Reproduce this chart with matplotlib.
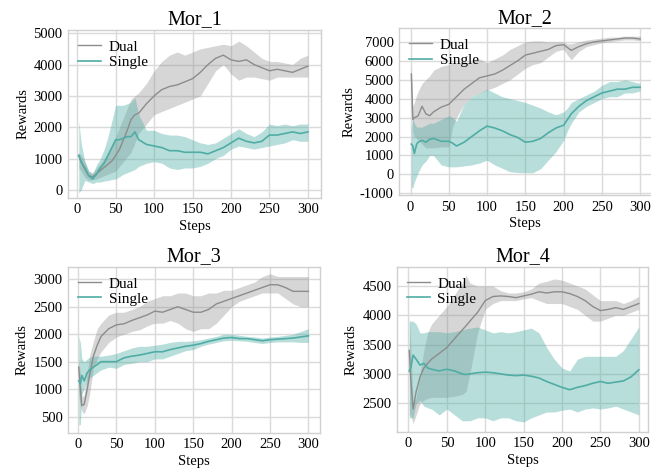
import matplotlib
matplotlib.use("Agg")
import matplotlib.pyplot as plt
import numpy as np

plt.rcParams['font.family'] = ['Liberation Serif', 'DejaVu Serif']
plt.rcParams['axes.unicode_minus'] = False

# ---------------- Mor_1 ----------------
m1_steps = [2, 5, 10, 15, 20, 25, 30, 35, 40, 45, 50, 55, 60, 65, 70, 75, 80, 90, 100, 110, 120, 130,
            140, 150, 160, 170, 180, 190, 200, 210, 220, 230, 240, 250, 260, 270, 280, 290, 300]
m1_dual_mean = [1100, 900, 650, 450, 420, 520, 620, 720, 820, 920, 1100, 1300, 1600, 1900, 2250, 2400, 2450,
                2750, 3000, 3200, 3300, 3350, 3450, 3550, 3750, 4000, 4200, 4300, 4150, 4100, 4150, 4000,
                3900, 3800, 3850, 3800, 3750, 3850, 3950]
m1_dual_lo = [700, 600, 400, 300, 320, 350, 400, 450, 500, 550, 600, 750, 900, 1050, 1200, 1500, 1800,
              2100, 2400, 2500, 2600, 2700, 2800, 2900, 3000, 3400, 3800, 4000, 3700, 3500, 3600, 3600,
              3550, 3500, 3600, 3600, 3600, 3600, 3600]
m1_dual_hi = [1200, 1100, 900, 600, 550, 700, 850, 1000, 1200, 1450, 1700, 2000, 2300, 2600, 2900, 3000, 3100,
              3400, 3800, 4100, 4300, 4400, 4300, 4400, 4500, 4550, 4600, 4650, 4600, 4750, 4600, 4400,
              4200, 4100, 4100, 4050, 4000, 4200, 4300]
m1_single_mean = [1100, 900, 700, 450, 350, 500, 700, 850, 1100, 1350, 1600, 1600, 1650, 1700, 1700, 1850, 1600,
                  1450, 1400, 1350, 1250, 1250, 1200, 1200, 1200, 1150, 1250, 1350, 1500, 1650, 1550, 1500,
                  1550, 1750, 1750, 1800, 1850, 1800, 1850]
m1_single_lo = [-100, 0, 300, 250, 200, 250, 250, 280, 300, 330, 350, 420, 500, 550, 600, 650, 750,
                850, 900, 850, 700, 650, 700, 700, 750, 850, 1000, 1100, 1300, 1400, 1350, 1300,
                1350, 1400, 1450, 1500, 1600, 1550, 1550]
m1_single_hi = [2200, 1500, 900, 600, 500, 800, 1000, 1300, 1700, 2200, 2700, 2700, 2700, 2750, 2800, 2950, 2400,
                1900, 1900, 1800, 1750, 1750, 1700, 1600, 1500, 1450, 1500, 1650, 1800, 1950, 1800, 1700,
                1850, 2100, 2050, 2100, 2050, 2100, 2100]

# ---------------- Mor_2 ----------------
m2_steps = [1, 3, 5, 8, 10, 15, 20, 25, 30, 40, 50, 55, 60, 70, 80, 90, 100, 110, 120, 130, 140, 150,
            160, 170, 180, 190, 200, 205, 210, 220, 230, 240, 250, 260, 270, 280, 290, 300]
m2_dual_mean = [5300, 2900, 3000, 3050, 3100, 3600, 3200, 3100, 3300, 3550, 3700, 3900, 4100, 4500, 4800,
                5100, 5200, 5300, 5500, 5750, 6000, 6300, 6400, 6500, 6600, 6800, 6850, 6700, 6550,
                6750, 6900, 7000, 7050, 7100, 7150, 7200, 7200, 7150]
m2_dual_lo = [3500, 2200, 2000, 1900, 1800, 1600, 1400, 1400, 1400, 1450, 1450, 2500, 3000, 3700, 4100,
              4300, 4450, 4600, 4800, 5000, 5300, 5600, 5800, 5900, 6200, 6500, 6600, 6300, 6050,
              6500, 6750, 6850, 6950, 7000, 7050, 7100, 7100, 7050]
m2_dual_hi = [5800, 3600, 3800, 4200, 4400, 4800, 5000, 5200, 5500, 5700, 5800, 5900, 5900, 5900, 5950,
              6100, 5900, 6100, 6300, 6600, 6800, 7000, 7050, 7050, 7000, 7000, 7000, 6900, 6900,
              7000, 7100, 7150, 7200, 7250, 7250, 7300, 7300, 7300]
m2_single_mean = [1600, 1500, 1100, 1600, 1700, 1800, 1700, 1850, 1900, 1750, 1750, 1650, 1500, 1700, 2000,
                  2300, 2550, 2450, 2300, 2100, 1950, 1700, 1750, 1900, 2200, 2450, 2600, 2900, 3200,
                  3600, 3900, 4100, 4300, 4400, 4500, 4500, 4600, 4600]
m2_single_lo = [-700, -700, -400, -100, 100, 500, 700, 1000, 1000, 500, 400, 400, 400, 450, 500,
                600, 750, 500, 320, 140, 100, 90, 90, 300, 760, 1200, 1800, 2300, 2700,
                3300, 3600, 3800, 4000, 4100, 4100, 4300, 4300, 4400]
m2_single_hi = [2500, 3000, 2700, 2500, 2500, 2500, 2600, 2700, 2700, 2900, 3100, 3000, 2800, 3700, 4100,
                4300, 4500, 4300, 4100, 4000, 3900, 3800, 3650, 3500, 3300, 3150, 3300, 3500, 3800,
                4000, 4200, 4400, 4700, 4900, 4900, 5000, 4900, 4800]

# ---------------- Mor_3 ----------------
m3_steps = [1, 3, 5, 8, 12, 15, 20, 25, 30, 40, 50, 60, 70, 80, 90, 100, 110, 120, 130, 140, 150,
            160, 170, 180, 190, 200, 210, 220, 230, 240, 250, 260, 270, 280, 290, 300]
m3_dual_mean = [1400, 1000, 700, 720, 1000, 1250, 1600, 1800, 1960, 2100, 2170, 2190, 2250, 2300, 2350,
                2420, 2400, 2450, 2500, 2450, 2400, 2400, 2450, 2550, 2600, 2650, 2700, 2750, 2800,
                2850, 2900, 2900, 2850, 2780, 2780, 2780]
m3_dual_lo = [900, 700, 600, 550, 700, 900, 1380, 1550, 1680, 1850, 1950, 2000, 2050, 2080, 2150,
              2200, 2200, 2250, 2200, 2100, 2050, 2100, 2100, 2200, 2350, 2500, 2600, 2650, 2700,
              2750, 2750, 2750, 2650, 2550, 2500, 2500]
m3_dual_hi = [1550, 1300, 850, 900, 1300, 1600, 1870, 2100, 2200, 2350, 2400, 2400, 2450, 2500, 2600,
              2650, 2700, 2700, 2750, 2750, 2700, 2700, 2750, 2750, 2800, 2800, 2850, 2900, 2950,
              3050, 3100, 3050, 3050, 3050, 3050, 3050]
m3_single_mean = [1150, 1100, 1250, 1150, 1300, 1350, 1400, 1450, 1500, 1500, 1500, 1570, 1600, 1620, 1650,
                  1680, 1680, 1720, 1750, 1780, 1800, 1830, 1870, 1900, 1930, 1940, 1920, 1920, 1900,
                  1880, 1900, 1910, 1920, 1930, 1950, 1970]
m3_single_lo = [350, 350, 900, 1000, 1150, 1200, 1250, 1300, 1350, 1400, 1380, 1450, 1470, 1500, 1500,
                1550, 1550, 1600, 1650, 1700, 1720, 1780, 1820, 1850, 1880, 1890, 1880, 1870, 1850,
                1830, 1850, 1860, 1860, 1860, 1850, 1850]
m3_single_hi = [1950, 1850, 1550, 1500, 1550, 1580, 1600, 1600, 1600, 1620, 1650, 1700, 1750, 1780, 1780,
                1800, 1820, 1850, 1870, 1870, 1880, 1900, 1930, 1960, 2000, 2000, 1980, 1960, 1950,
                1930, 1950, 1960, 1980, 2000, 2050, 2100]

# ---------------- Mor_4 ----------------
m4_steps = [1, 3, 6, 10, 15, 20, 25, 30, 40, 50, 60, 70, 75, 80, 90, 100, 110, 120, 130, 140, 150,
            160, 170, 180, 190, 200, 210, 220, 230, 240, 250, 260, 270, 280, 290, 300]
m4_dual_mean = [3400, 2900, 2400, 2700, 2950, 3100, 3180, 3250, 3350, 3450, 3600, 3750, 3820, 3900, 4050,
                4250, 4320, 4330, 4320, 4300, 4330, 4360, 4400, 4380, 4400, 4400, 4370, 4320, 4250,
                4150, 4080, 4100, 4130, 4100, 4150, 4200]
m4_dual_lo = [2300, 2300, 2150, 2300, 2500, 2550, 2580, 2600, 2600, 2600, 2620, 2650, 2700, 3000, 3700,
              4100, 4200, 4250, 4250, 4250, 4280, 4300, 4250, 4200, 4200, 4200, 4150, 4100, 4000,
              3900, 3900, 3950, 4000, 4000, 4050, 4100]
m4_dual_hi = [4000, 3500, 2500, 2600, 3000, 3400, 3700, 3850, 4000, 4150, 4350, 4550, 4680, 4550, 4500,
              4500, 4500, 4420, 4380, 4380, 4400, 4450, 4550, 4580, 4620, 4600, 4550, 4500, 4450,
              4350, 4250, 4250, 4250, 4200, 4250, 4320]
m4_single_mean = [3050, 3100, 3320, 3250, 3150, 3180, 3100, 3080, 3050, 3080, 3050, 3000, 2990, 3000, 3020,
                  3030, 3020, 3000, 2980, 2970, 2980, 2960, 2930, 2870, 2820, 2770, 2730, 2770, 2800,
                  2840, 2870, 2840, 2860, 2880, 2950, 3070]
m4_single_lo = [2250, 2250, 2250, 2500, 2550, 2450, 2420, 2400, 2300, 2400, 2300, 2200, 2200, 2200, 2250,
                2250, 2200, 2250, 2250, 2200, 2180, 2250, 2300, 2350, 2350, 2380, 2400, 2350, 2400,
                2420, 2400, 2420, 2450, 2400, 2350, 2300]
m4_single_hi = [3900, 3900, 3900, 3850, 3700, 3700, 3720, 3720, 3720, 3700, 3720, 3750, 3770, 3780, 3800,
                3750, 3700, 3720, 3700, 3720, 3750, 3780, 3700, 3450, 3250, 3100, 3050, 3250, 3300,
                3300, 3300, 3300, 3300, 3400, 3600, 3800]

titles = ['Mor_1', 'Mor_2', 'Mor_3', 'Mor_4']
series_labels = ['Dual', 'Single']
yticks = [[0, 1000, 2000, 3000, 4000, 5000],
          [-1000, 0, 1000, 2000, 3000, 4000, 5000, 6000, 7000],
          [500, 1000, 1500, 2000, 2500, 3000],
          [2500, 3000, 3500, 4000, 4500]]
xticks = [0, 50, 100, 150, 200, 250, 300]

panels = [
    (m1_steps, m1_dual_mean, m1_dual_lo, m1_dual_hi, m1_single_mean, m1_single_lo, m1_single_hi),
    (m2_steps, m2_dual_mean, m2_dual_lo, m2_dual_hi, m2_single_mean, m2_single_lo, m2_single_hi),
    (m3_steps, m3_dual_mean, m3_dual_lo, m3_dual_hi, m3_single_mean, m3_single_lo, m3_single_hi),
    (m4_steps, m4_dual_mean, m4_dual_lo, m4_dual_hi, m4_single_mean, m4_single_lo, m4_single_hi),
]

positions = [
    [0.1045, 0.579, 0.3886, 0.357],
    [0.613, 0.585, 0.388, 0.355],
    [0.1045, 0.079, 0.387, 0.353],
    [0.6098, 0.081, 0.3856, 0.351],
]
ylims = [(-255, 5100), (-1090, 7720), (204, 3224), (2010, 4824)]
xlims = [(-12, 317), (-15, 315), (-13, 315), (-15, 312)]

gray_line = '#8c8c8c'
gray_fill = '#8c8c8c'
teal_line = '#4fada5'
teal_fill = '#4fada5'

fig = plt.figure(figsize=(6.51, 4.70), dpi=100)

for i, (st, dm, dl, dh, sm, sl, sh) in enumerate(panels):
    ax = fig.add_axes(positions[i])
    ax.set_facecolor('white')
    ax.grid(True, color='#dadada', linewidth=1.0, zorder=0)
    ax.set_axisbelow(True)
    for sp in ax.spines.values():
        sp.set_color('#d0d0d0')
        sp.set_linewidth(1.0)
    ax.fill_between(st, dl, dh, color=gray_fill, alpha=0.35, linewidth=0, zorder=2)
    ax.fill_between(st, sl, sh, color=teal_fill, alpha=0.4, linewidth=0, zorder=2)
    ax.plot(st, dm, color=gray_line, linewidth=1.0, label=series_labels[0], zorder=3)
    ax.plot(st, sm, color=teal_line, linewidth=1.2, label=series_labels[1], zorder=3)
    ax.set_xlim(*xlims[i])
    ax.set_ylim(*ylims[i])
    ax.set_xticks(xticks)
    ax.set_yticks(yticks[i])
    ax.tick_params(axis='both', length=0, labelsize=10.5, pad=4, colors='black')
    ax.set_title(titles[i], fontsize=14.5, pad=4)
    ax.set_xlabel('Steps', fontsize=10.5, labelpad=2.5)
    ax.set_ylabel('Rewards', fontsize=10.5, labelpad=3)
    ax.legend(loc='upper left', frameon=False, fontsize=11, handlelength=1.5,
              borderaxespad=0.25, labelspacing=0.1, handletextpad=0.5)

fig.savefig('out.png', dpi=100)
